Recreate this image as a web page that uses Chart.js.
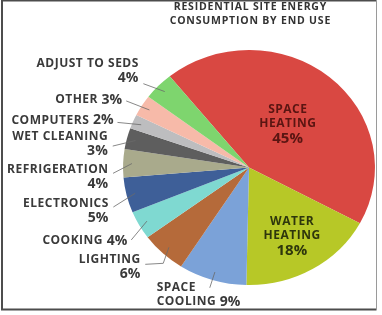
<!DOCTYPE html>
<html lang="en">
<head>
<meta charset="UTF-8">
<title>Residential Site Energy Consumption by End Use</title>
<script src="https://cdn.jsdelivr.net/npm/chart.js"></script>
<style>
  body { margin: 0; background: #fff; }
  #wrap { position: relative; width: 382px; height: 315px; }
</style>
</head>
<body>
<div id="wrap"><canvas id="energyChart" width="382" height="315"></canvas></div>
<script>
// end uses, clockwise from the top of the space heating slice
const categories = ['SPACE HEATING', 'WATER HEATING', 'SPACE COOLING', 'LIGHTING', 'COOKING',
    'ELECTRONICS', 'REFRIGERATION', 'WET CLEANING', 'COMPUTERS', 'OTHER', 'ADJUST TO SEDS'];
const shares = [45, 18, 9, 6, 4, 5, 4, 3, 2, 3, 4];
const labelLines = [['SPACE', 'HEATING'], ['WATER', 'HEATING'], ['SPACE', 'COOLING'], ['LIGHTING'],
    ['COOKING'], ['ELECTRONICS'], ['REFRIGERATION'], ['WET CLEANING'], ['COMPUTERS'], ['OTHER'],
    ['ADJUST TO SEDS']];
const pctOwnLine = [true, true, false, true, false, true, true, true, false, false, true];
const titleLines = ['RESIDENTIAL SITE ENERGY', 'CONSUMPTION BY END USE'];

const colors = ['#d94842', '#b7c827', '#7ba2d8', '#b56a3a', '#7fd9d1', '#3e5f98',
    '#a9aa8c', '#5e5e5e', '#bdbdbf', '#f7baa9', '#7ed56e'];

const SX = 1.072; // the pie in the picture is a bit wider than tall

const nameFont = { font: 'bold 12px "Open Sans", sans-serif', ls: 0.5 };
const pctFont = { font: 'bold 14px "Open Sans", sans-serif', ls: 0 };
const bigPctFont = { font: 'bold 15px "Open Sans", sans-serif', ls: 0 };
const titleFont = { font: 'bold 10.5px "Open Sans", sans-serif', ls: 0.8 };

// the two big slices carry their label inside
const insideLabels = { 0: { f: 0.48, color: '#5a1512' }, 1: { f: 0.675, color: '#2e360c' } };
// text block offset from the point just outside the slice; ly = where the leader meets the block
const outerTweaks = {
    2: { align: 'left', dx: -52, dy: 3.5, radial: true },
    3: { dx: -14, dy: 5, ly: -2.5, bend: 23 },
    4: { dx: -2, dy: 10, ly: -1 },
    5: { dx: -6, dy: 12.5, ly: -3.5 },
    6: { dx: -2.5, dy: 13.5, ly: -3 },
    7: { dx: -7, dy: 8.5, ly: 2 },
    8: { dx: -9, dy: 3.5, ly: 2 },
    9: { dx: -10, dy: 0.5, ly: 1 },
    10: { dx: -11, dy: -7, ly: 13 }
};

// letter spacing is added by hand so the width is known exactly
function partWidth(ctx, p) {
    ctx.font = p.font;
    if (!p.ls) return ctx.measureText(p.text).width;
    let w = 0;
    for (const ch of p.text) w += ctx.measureText(ch).width + p.ls;
    return w - p.ls;
}

function lineWidth(ctx, parts) {
    return parts.reduce((w, p) => w + partWidth(ctx, p), 0);
}

function drawParts(ctx, parts, x, y) {
    parts.forEach(p => {
        ctx.font = p.font;
        if (!p.ls) {
            ctx.fillText(p.text, x, y);
            x += ctx.measureText(p.text).width;
            return;
        }
        for (const ch of p.text) {
            ctx.fillText(ch, x, y);
            x += ctx.measureText(ch).width + p.ls;
        }
    });
}

function buildLines(i, pf) {
    const pct = shares[i] + '%';
    const lines = labelLines[i].map(n => [{ text: n, ...nameFont }]);
    if (pctOwnLine[i]) {
        lines.push([{ text: pct, ...pf }]);
    } else {
        lines[lines.length - 1].push({ text: ' ', ...nameFont }, { text: pct, ...pf });
    }
    return lines;
}

const ellipsePlugin = {
    id: 'ellipse',
    beforeDatasetsDraw(chart) {
        const arc = chart.getDatasetMeta(0).data[0];
        const ctx = chart.ctx;
        ctx.save();
        ctx.translate(arc.x, arc.y);
        ctx.scale(SX, 1);
        ctx.translate(-arc.x, -arc.y);
    },
    afterDatasetsDraw(chart) {
        chart.ctx.restore();
    }
};

const decorPlugin = {
    id: 'decor',
    beforeDraw(chart) {
        const ctx = chart.ctx;
        ctx.save();
        ctx.strokeStyle = '#4d4d4d';
        ctx.lineWidth = 2;
        ctx.beginPath();
        ctx.moveTo(376.5, 0.5);
        ctx.lineTo(2, 0.5);
        ctx.lineTo(2, 309.5);
        ctx.lineTo(376.5, 309.5);
        ctx.stroke();
        ctx.strokeStyle = '#9a9a9a';
        ctx.lineWidth = 1;
        ctx.beginPath();
        ctx.moveTo(376.5, 0);
        ctx.lineTo(376.5, 310);
        ctx.stroke();
        ctx.restore();
    },
    afterDraw(chart) {
        const ctx = chart.ctx;
        const meta = chart.getDatasetMeta(0);
        ctx.save();
        ctx.textBaseline = 'middle';
        ctx.textAlign = 'left';

        // title
        ctx.fillStyle = '#333';
        titleLines.forEach((t, k) => {
            const parts = [{ text: t, ...titleFont }];
            drawParts(ctx, parts, 250 - lineWidth(ctx, parts) / 2, 7.5 + k * 13.5);
        });

        const lh = 14.5;
        meta.data.forEach((arc, i) => {
            const mid = (arc.startAngle + arc.endAngle) / 2;
            const R = arc.outerRadius;
            const at = f => ({ x: arc.x + SX * f * R * Math.cos(mid), y: arc.y + f * R * Math.sin(mid) });

            if (insideLabels[i]) {
                const lines = buildLines(i, bigPctFont);
                const c = at(insideLabels[i].f);
                ctx.fillStyle = insideLabels[i].color;
                const top = c.y - (lines.length - 1) * lh / 2;
                lines.forEach((parts, k) => {
                    drawParts(ctx, parts, c.x - lineWidth(ctx, parts) / 2, top + k * lh);
                });
                return;
            }

            const lines = buildLines(i, pctFont);
            const tw = outerTweaks[i] || { dx: -6, dy: 0 };
            const base = at(1.1);
            const ax = base.x + tw.dx;
            const cy = base.y + tw.dy;

            // leader line
            const p1 = at(0.93);
            ctx.strokeStyle = '#6a6a6a';
            ctx.lineWidth = 0.8;
            ctx.beginPath();
            ctx.moveTo(p1.x, p1.y);
            if (tw.radial) {
                const p2 = at(1.07);
                ctx.lineTo(p2.x, p2.y);
            } else {
                const ly = cy + (tw.ly || 0);
                if (tw.bend) ctx.lineTo(ax + tw.bend, ly - 1);
                ctx.lineTo(ax + 5, ly);
            }
            ctx.stroke();

            ctx.fillStyle = '#3a3a3a';
            const top = cy - (lines.length - 1) * lh / 2;
            lines.forEach((parts, k) => {
                const w = lineWidth(ctx, parts);
                drawParts(ctx, parts, tw.align === 'left' ? ax : ax - w, top + k * lh);
            });
        });
        ctx.restore();
    }
};

new Chart(document.getElementById('energyChart'), {
    type: 'pie',
    data: {
        labels: categories,
        datasets: [{
            data: shares,
            backgroundColor: colors,
            borderWidth: 0
        }]
    },
    options: {
        responsive: false,
        animation: false,
        rotation: -39,
        layout: { padding: { top: 50, bottom: 30, left: 131, right: 15 } },
        plugins: {
            legend: { display: false },
            tooltip: { enabled: false }
        }
    },
    plugins: [ellipsePlugin, decorPlugin]
});
</script>
</body>
</html>
